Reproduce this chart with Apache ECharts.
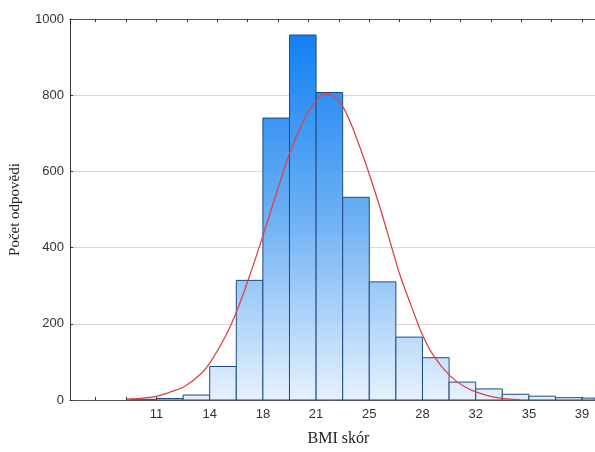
<!DOCTYPE html>
<html>
<head>
<meta charset="utf-8">
<script src="https://cdn.jsdelivr.net/npm/echarts@6/dist/echarts.min.js"></script>
<style>
  html, body { margin: 0; padding: 0; background: #fff; }
  #chart { width: 595px; height: 452px; }
</style>
</head>
<body>
<div id="chart"></div>
<script>
// histogram bins (BMI), lower/upper edges and counts
const binLow = [9.25, 11, 12.75, 14.5, 16.25, 18, 19.75, 21.5, 23.25, 25, 26.75, 28.5, 30.25, 32, 33.75, 35.5, 37.25, 39];
const binHigh = [11, 12.75, 14.5, 16.25, 18, 19.75, 21.5, 23.25, 25, 26.75, 28.5, 30.25, 32, 33.75, 35.5, 37.25, 39, 40.75];
const counts = [2, 4, 13, 88, 314, 740, 958, 807, 532, 310, 165, 111, 47, 29, 15, 10, 6, 5];

// fitted normal curve
const curveX = [9.05, 10.9, 11.78, 12.87, 13.96, 14.62, 15.6, 16.26, 17.13, 18.01, 18.99, 19.75, 20.52, 21.37, 22.16, 22.92, 23.58, 24.34, 24.99, 25.76, 26.53, 27.07, 27.94, 28.49, 29.25, 30.3, 31.22, 32.1, 33.41, 34.94];
const curveY = [2, 9, 19, 36, 70, 104, 172, 231, 326, 432, 555, 647, 720, 780, 803, 788, 745, 668, 594, 498, 393, 322, 228, 172, 115, 64, 36, 20, 6, 1];

// axis labels at bin edges, ticks every 2 BMI
const labelValues = [11, 14.5, 18, 21.5, 25, 28.5, 32, 35.5, 39];
const labelTexts = ['11', '14', '18', '21', '25', '28', '32', '35', '39'];
const tickValues = [7, 9, 11, 13, 15, 17, 19, 21, 23, 25, 27, 29, 31, 33, 35, 37, 39];

const chart = echarts.init(document.getElementById('chart'));

const barFill = new echarts.graphic.LinearGradient(0, 19, 0, 405, [
  { offset: 0, color: '#0a7cf3' },
  { offset: 0.5, color: '#6aaff4' },
  { offset: 1, color: '#e9f3fd' }
], true);

const X_MIN = 5.31;
const X_MAX = 39.85;

chart.setOption({
  animation: false,
  grid: { left: 68, right: 0, top: 19, bottom: 46, containLabel: false },
  xAxis: [
    {
      type: 'value',
      position: 'bottom',
      min: X_MIN,
      max: X_MAX,
      name: 'BMI skór',
      nameLocation: 'middle',
      nameGap: 31,
      nameTextStyle: {
        fontFamily: 'Liberation Serif',
        fontSize: 16,
        color: '#222',
        padding: [0, 0, 0, 12]
      },
      axisLine: { show: true, lineStyle: { color: '#555', width: 1 } },
      axisTick: {
        show: true,
        inside: true,
        length: 3,
        customValues: tickValues,
        lineStyle: { color: '#333' }
      },
      axisLabel: {
        customValues: labelValues,
        margin: 8,
        fontFamily: 'Liberation Sans',
        fontSize: 13,
        color: '#333',
        formatter: v => {
          const i = labelValues.findIndex(l => Math.abs(l - v) < 1e-6);
          return i >= 0 ? labelTexts[i] : '';
        }
      },
      splitLine: { show: false }
    },
    {
      type: 'value',
      position: 'top',
      min: X_MIN,
      max: X_MAX,
      axisLine: { show: true, lineStyle: { color: '#555', width: 1 } },
      axisTick: {
        show: true,
        inside: true,
        length: 3,
        customValues: tickValues,
        lineStyle: { color: '#333' }
      },
      axisLabel: { show: false },
      splitLine: { show: false }
    }
  ],
  yAxis: {
    type: 'value',
    min: 0,
    max: 1000,
    interval: 200,
    name: 'Počet odpovědi',
    nameLocation: 'middle',
    nameGap: 47,
    nameTextStyle: {
      fontFamily: 'Liberation Serif',
      fontSize: 15,
      color: '#222'
    },
    axisLine: { show: true, lineStyle: { color: '#333', width: 1 } },
    axisTick: { show: true, inside: true, length: 3, lineStyle: { color: '#333' } },
    axisLabel: {
      margin: 6,
      fontFamily: 'Liberation Sans',
      fontSize: 13,
      color: '#333',
      formatter: v => String(v)
    },
    splitLine: { lineStyle: { color: '#d9d9d9', width: 1 } }
  },
  series: [
    {
      type: 'custom',
      xAxisIndex: 0,
      clip: true,
      data: counts.map((c, i) => [binLow[i], binHigh[i], c]),
      encode: { x: [0, 1], y: 2 },
      renderItem: (params, api) => {
        const p0 = api.coord([api.value(0), api.value(2)]);
        const p1 = api.coord([api.value(1), 0]);
        const rect = echarts.graphic.clipRectByRect(
          { x: p0[0], y: p0[1], width: p1[0] - p0[0], height: p1[1] - p0[1] },
          params.coordSys
        );
        return rect && {
          type: 'rect',
          shape: rect,
          style: { fill: barFill, stroke: '#1f4a80', lineWidth: 1 }
        };
      },
      z: 2
    },
    {
      type: 'line',
      xAxisIndex: 0,
      data: curveX.map((x, i) => [x, curveY[i]]),
      smooth: 0.4,
      symbol: 'none',
      lineStyle: { color: '#d9434d', width: 1.3 },
      z: 3
    }
  ]
});
</script>
</body>
</html>
